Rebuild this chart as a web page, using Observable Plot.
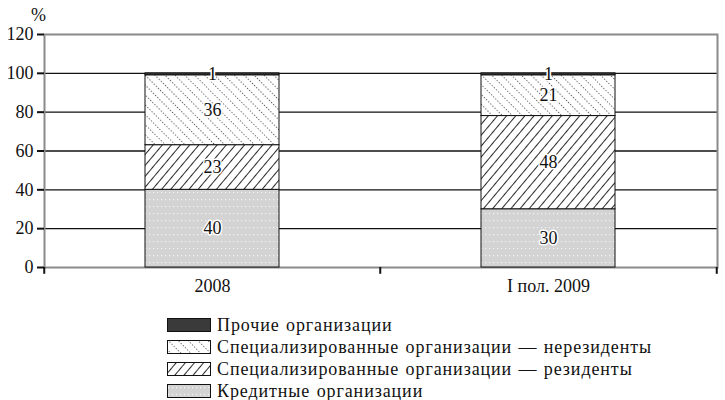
<!DOCTYPE html>
<html>
<head>
<meta charset="utf-8">
<script src="https://cdn.jsdelivr.net/npm/d3@7"></script>
<script src="https://cdn.jsdelivr.net/npm/@observablehq/plot@0.6"></script>
<style>
  body { margin: 0; background: #fff; font-family: 'Times New Roman', 'Liberation Serif', serif; }
  svg, svg text, .row, .row span { font-family: 'Times New Roman', 'Liberation Serif', serif !important; }
  #legend { margin-left: 167px; margin-top: 9px; }
  .row { display: flex; align-items: center; height: 22px; font-size: 18px; color: #111; }
  .row span { letter-spacing: 0.9px; word-spacing: 1px; }
  .row svg { margin-right: 6px; }
</style>
</head>
<body>
<div id="chart"></div>
<div id="legend"></div>
<script>
const categories = ["2008", "I пол. 2009"];
const series = [
  "Кредитные организации",
  "Специализированные организации — резиденты",
  "Специализированные организации — нерезиденты",
  "Прочие организации"
];
const values2008 = [40, 23, 36, 1];
const values2009 = [30, 48, 21, 1];
const yTicks = [0, 20, 40, 60, 80, 100, 120];
const gridTicks = [20, 40, 60, 80, 100];
const patternIds = ["pCredit", "pRes", "pNonres", "pOther"];
const legendOrder = [3, 2, 1, 0];

const rows = [];
[values2008, values2009].forEach((vals, ci) => {
  vals.forEach((v, si) => rows.push({cat: categories[ci], series: series[si], value: v}));
});

const W = 725, ML = 44, MR = 8;
const halfStep = (W - ML - MR) / categories.length / 2;

const plot = Plot.plot({
  width: W,
  height: 305,
  marginTop: 34,
  marginBottom: 38,
  marginLeft: ML,
  marginRight: MR,
  style: "font-family: 'Times New Roman', 'Liberation Serif', serif; font-size: 18px; color: #111; background: white;",
  x: {domain: categories, paddingInner: 0.6, paddingOuter: 0.3, label: null},
  y: {domain: [0, 120], ticks: yTicks, label: null},
  color: {type: "ordinal", domain: series, range: patternIds.map(id => `url(#${id})`)},
  marks: [
    Plot.ruleY(gridTicks, {stroke: "#111", strokeWidth: 1.3}),
    Plot.frame({stroke: "#8a8a8a", strokeWidth: 2}),
    Plot.ruleX(categories, {x: d => d, dx: -halfStep, y1: 0, y2: -3.5, stroke: "#111", strokeWidth: 2}),
    Plot.ruleX(categories.slice(-1), {x: d => d, dx: halfStep, y1: 0, y2: -3.5, stroke: "#111", strokeWidth: 2}),
    Plot.barY(rows, {x: "cat", y: "value", fill: "series", stroke: "#111", strokeWidth: 1}),
    Plot.text(rows, Plot.stackY({x: "cat", y: "value", text: "value", fill: "#111", stroke: "white", strokeWidth: 3, fontSize: 18})),
    Plot.axisY({ticks: yTicks, tickSize: 7, tickPadding: 4, fontSize: 18, label: null, stroke: "#111", strokeWidth: 2}),
    Plot.axisX({tickSize: 0, tickPadding: 12, fontSize: 18, label: null}),
    Plot.text(["%"], {frameAnchor: "top-left", dx: -6, dy: -26, fontSize: 18, textAnchor: "middle", fill: "#111"})
  ]
});
document.getElementById("chart").appendChild(plot);

const defs = d3.select(plot).insert("defs", ":first-child");
// Credit: gray with white dotted rows
let p = defs.append("pattern").attr("id", "pCredit").attr("patternUnits", "userSpaceOnUse").attr("width", 4).attr("height", 7);
p.append("rect").attr("width", 4).attr("height", 7).attr("fill", "#d3d3d3");
p.append("rect").attr("x", 1).attr("y", 3).attr("width", 1.2).attr("height", 1.2).attr("fill", "#f4f4f4");
// Residents: solid "/" diagonals
p = defs.append("pattern").attr("id", "pRes").attr("patternUnits", "userSpaceOnUse").attr("width", 7).attr("height", 7).attr("patternTransform", "rotate(40)");
p.append("rect").attr("width", 7).attr("height", 7).attr("fill", "white");
p.append("line").attr("x1", 0.5).attr("y1", 0).attr("x2", 0.5).attr("y2", 7).attr("stroke", "#111").attr("stroke-width", 0.9);
// Non-residents: dotted "\" diagonals
p = defs.append("pattern").attr("id", "pNonres").attr("patternUnits", "userSpaceOnUse").attr("width", 7).attr("height", 6).attr("patternTransform", "rotate(-45)");
p.append("rect").attr("width", 7).attr("height", 6).attr("fill", "white");
p.append("line").attr("x1", 0.5).attr("y1", 0).attr("x2", 0.5).attr("y2", 6).attr("stroke", "#555").attr("stroke-width", 1).attr("stroke-dasharray", "1.2,1.8");
// Other: dark
p = defs.append("pattern").attr("id", "pOther").attr("patternUnits", "userSpaceOnUse").attr("width", 4).attr("height", 4);
p.append("rect").attr("width", 4).attr("height", 4).attr("fill", "#3a3a3a");

const legend = d3.select("#legend");
legendOrder.forEach(i => {
  const row = legend.append("div").attr("class", "row");
  const s = row.append("svg").attr("width", 44).attr("height", 14);
  s.append("rect").attr("x", 0.5).attr("y", 0.5).attr("width", 43).attr("height", 13)
    .attr("fill", `url(#${patternIds[i]})`).attr("stroke", "#111").attr("stroke-width", 1);
  row.append("span").text(series[i]);
});
</script>
</body>
</html>
